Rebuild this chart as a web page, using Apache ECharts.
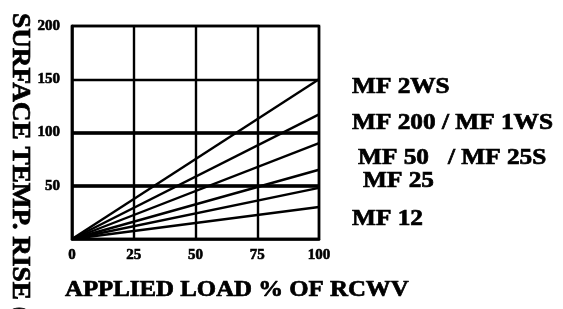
<!DOCTYPE html>
<html>
<head>
<meta charset="utf-8">
<script src="https://cdn.jsdelivr.net/npm/echarts@6/dist/echarts.min.js"></script>
<style>
  html, body { margin: 0; padding: 0; background: #fff; }
  #main { width: 563px; height: 309px; }
</style>
</head>
<body>
<div id="main"></div>
<script>
  // x values (applied load %) and surface temp rise at 100% load for each line
  const loadPoints = [0, 100]
  const riseAt100 = [150, 117, 90, 65, 48, 30]
  const xTicks = [0, 25, 50, 75, 100]
  const yTicks = [0, 50, 100, 150, 200]
  const boldLines = [50, 100]
  const seriesLabels = ['MF 2WS', 'MF 200 / MF 1WS', 'MF 50   / MF 25S', 'MF 25', 'MF 12']

  const serif = '"Liberation Serif", "Times New Roman", serif'
  const chart = echarts.init(document.getElementById('main'))

  const lineSeries = riseAt100.map((v, i) => ({
    type: 'line',
    name: 'line' + i,
    data: loadPoints.map(x => [x, v * x / 100]),
    symbol: 'none',
    lineStyle: { color: '#000', width: 2.4 },
    z: 3,
    silent: true
  }))

  lineSeries.push({
    type: 'line',
    data: [],
    markLine: {
      symbol: 'none',
      silent: true,
      label: { show: false },
      lineStyle: { color: '#000', width: 3.5, type: 'solid' },
      data: boldLines.map(v => ({ yAxis: v }))
    }
  })

  // heavy text look
  const txt = (t, x, y, size, extra) => Object.assign({
    type: 'text',
    x: x,
    y: y,
    style: {
      text: t,
      font: 'bold ' + size + 'px ' + serif,
      fill: '#000',
      stroke: '#000',
      lineWidth: 0.7,
      textAlign: 'left',
      textVerticalAlign: 'middle'
    }
  }, extra)

  // right-hand labels: left x, center y
  const labelPos = [[352, 87], [352, 123], [358, 158], [363, 181], [352, 219]]
  const graphics = seriesLabels.map((t, i) => txt(t, labelPos[i][0], labelPos[i][1], 23, { scaleX: 1.1 }))
  graphics.push(txt('APPLIED LOAD % OF RCWV', 65, 290, 23, { scaleX: 1.08 }))
  graphics.push(txt('SURFACE TEMP. RISE (°C)', 19, 13, 25, { rotation: -Math.PI / 2, scaleX: 1.09 }))

  const tickLabel = {
    color: '#000', fontFamily: serif, fontWeight: 'bold', fontSize: 15,
    textBorderColor: '#000', textBorderWidth: 0.6
  }

  chart.setOption({
    animation: false,
    backgroundColor: '#fff',
    grid: {
      left: 72, right: 244, top: 26, bottom: 70,
      show: true, borderColor: '#000', borderWidth: 2.5
    },
    xAxis: {
      type: 'value',
      min: xTicks[0],
      max: xTicks[xTicks.length - 1],
      interval: 25,
      axisLine: { show: true, lineStyle: { color: '#000', width: 2.5 } },
      axisTick: { show: false },
      splitLine: { show: true, lineStyle: { color: '#000', width: 2.4 } },
      axisLabel: Object.assign({ margin: 9 }, tickLabel)
    },
    yAxis: {
      type: 'value',
      min: yTicks[0],
      max: yTicks[yTicks.length - 1],
      interval: 50,
      axisLine: { show: true, lineStyle: { color: '#000', width: 2.5 } },
      axisTick: { show: false },
      splitLine: { show: true, lineStyle: { color: '#000', width: 2.4 } },
      axisLabel: Object.assign({
        margin: 12,
        formatter: v => (v === 0 ? '' : String(v))
      }, tickLabel)
    },
    series: lineSeries,
    graphic: graphics
  })
</script>
</body>
</html>
